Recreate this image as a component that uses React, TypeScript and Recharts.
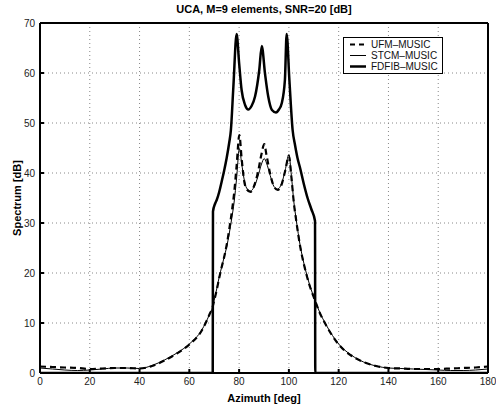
import { CartesianGrid, Label, Line, LineChart, XAxis, YAxis } from "recharts"

// azimuth grid shared by UFM and STCM curves
const azimuth = [
  0, 5, 10, 15, 20, 25, 30, 35, 40, 45, 50, 55, 60, 65, 68, 69.4, 70, 71, 72, 73, 74, 75, 76, 77, 78, 79,
  80.1, 81, 82, 83, 84.6, 86, 87.5, 89, 90.1, 91, 92.5, 94, 95.5, 97, 98.5, 100, 101, 102, 103, 104.5,
  106, 107, 108, 109, 110.5, 112, 115, 120, 125, 130, 135, 140, 145, 150, 155, 160, 165, 170, 175, 180,
]

const ufmMusic = [
  1.3, 1.2, 1.1, 1.0, 0.8, 0.9, 1.0, 1.0, 0.9, 1.4, 2.5, 3.9, 5.7, 8.5, 11.6, 13.3, 14.5, 16.6, 19.0, 21.2,
  23.2, 25.6, 28.6, 32.0, 36.0, 41.5, 47.6, 43.0, 38.5, 36.8, 36.2, 37.4, 40.0, 43.8, 45.8, 43.6, 39.8,
  37.3, 36.6, 37.6, 40.4, 43.4, 39.2, 34.0, 30.3, 25.4, 21.8, 19.8, 18.0, 16.5, 14.5, 12.5, 9.5, 5.7, 3.5,
  2.2, 1.4, 1.0, 0.9, 0.8, 0.8, 0.8, 0.9, 1.0, 1.1, 1.3,
]

const stcmMusic = [
  1.0, 0.8, 0.6, 0.5, 0.6, 0.8, 1.0, 1.0, 0.9, 1.5, 2.6, 4.0, 5.8, 8.6, 11.6, 13.3, 14.6, 16.8, 19.2, 21.2,
  23.2, 25.2, 27.8, 30.8, 34.2, 39.0, 44.9, 42.0, 38.8, 37.0, 36.4, 37.2, 39.2, 41.8, 42.9, 42.0, 39.5,
  37.3, 36.8, 37.8, 40.5, 43.7, 39.5, 34.2, 30.5, 25.6, 22.0, 20.0, 18.2, 16.6, 14.6, 12.6, 9.6, 5.8, 3.6,
  2.2, 1.4, 1.0, 0.9, 0.8, 0.7, 0.6, 0.5, 0.5, 0.6, 0.8,
]

const fdfibAzimuth = [
  0, 69.4, 69.5, 70.3, 71, 72, 73, 74, 75, 76, 76.7, 77.7, 79, 80, 81, 82.4, 83.7, 85, 86.4, 88.1, 89.1,
  90.4, 91.7, 93.2, 94.8, 96, 97.1, 98.4, 99.1, 100.2, 101.5, 102.5, 103.5, 104.5, 106, 107.5, 109, 110.5,
  110.6, 180,
]

const fdfibMusic = [
  0, 0, 32.3, 33.8, 34.6, 36.2, 38.3, 40.5, 43, 46, 48.6, 57.3, 67.8, 62, 56.6, 53.6, 52.7, 53.4, 55.3,
  60.6, 65.4, 59.9, 55.3, 52.6, 52.1, 52.7, 53.9, 58.6, 67.8, 58.6, 48.6, 45.5, 42.9, 41.0, 37.8, 35, 32.8,
  30.4, 0, 0,
]

const xTicks = [0, 20, 40, 60, 80, 100, 120, 140, 160, 180]
const yTicks = [0, 10, 20, 30, 40, 50, 60, 70]

const FONT = '"Liberation Sans", Arial, Helvetica, sans-serif'

const toPoints = (az: number[], db: number[]) => az.map((a, i) => ({ az: a, db: db[i] }))

const tickStyle = { fill: "#222", fontSize: 10, fontFamily: FONT }
const labelStyle = { fill: "#000", fontSize: 11, fontWeight: 700, fontFamily: FONT }

const legendRows = [
  { name: "UFM–MUSIC", width: 2.2, dash: "5 4" },
  { name: "STCM–MUSIC", width: 1, dash: undefined },
  { name: "FDFIB–MUSIC", width: 2.5, dash: undefined },
]

function LegendBox() {
  return (
    <div
      style={{
        position: "absolute",
        left: 343,
        top: 37,
        width: 98,
        height: 34,
        border: "1.5px solid #000",
        background: "#fff",
        fontFamily: FONT,
        fontSize: 10,
        paddingTop: 1,
      }}
    >
      {legendRows.map((row) => (
        <div key={row.name} style={{ display: "flex", alignItems: "center", height: 11 }}>
          <svg width={27} height={11}>
            <line x1={6} x2={22} y1={5.5} y2={5.5} stroke="#000" strokeWidth={row.width} strokeDasharray={row.dash} />
          </svg>
          <span style={{ color: "#111" }}>{row.name}</span>
        </div>
      ))}
    </div>
  )
}

export default function App() {
  return (
    <div style={{ position: "fixed", left: 0, top: 0, width: 496, height: 409, background: "#fff" }}>
      <LineChart width={496} height={409} margin={{ top: 0, right: 0, bottom: 0, left: 0 }}>
        <CartesianGrid stroke="#888" strokeDasharray="1 3" />
        <XAxis
          dataKey="az"
          type="number"
          domain={[0, 180]}
          ticks={xTicks}
          height={36}
          tickSize={-4}
          tickMargin={9}
          stroke="#000"
          strokeWidth={2}
          tick={tickStyle}
        >
          <Label value="Azimuth [deg]" position="insideBottom" offset={7} style={labelStyle} />
        </XAxis>
        <XAxis
          xAxisId="top"
          orientation="top"
          type="number"
          domain={[0, 180]}
          ticks={xTicks}
          height={23}
          tickSize={-4}
          tick={false}
          stroke="#000"
          strokeWidth={2}
        >
          <Label value="UCA, M=9 elements, SNR=20 [dB]" position="insideTop" offset={5} style={labelStyle} />
        </XAxis>
        <YAxis
          type="number"
          domain={[0, 70]}
          ticks={yTicks}
          width={40}
          tickSize={-4}
          tickMargin={9}
          stroke="#000"
          strokeWidth={2}
          tick={tickStyle}
          allowDataOverflow
        >
          <Label
            value="Spectrum [dB]"
            angle={-90}
            position="insideLeft"
            offset={17}
            style={{ ...labelStyle, textAnchor: "middle" }}
          />
        </YAxis>
        <YAxis
          yAxisId="right"
          orientation="right"
          type="number"
          domain={[0, 70]}
          ticks={yTicks}
          width={8}
          tickSize={-4}
          tick={false}
          stroke="#000"
          strokeWidth={2}
        />
        <Line
          data={toPoints(azimuth, ufmMusic)}
          dataKey="db"
          type="monotone"
          stroke="#000"
          strokeWidth={2.2}
          strokeDasharray="6 4"
          dot={false}
          isAnimationActive={false}
        />
        <Line
          data={toPoints(azimuth, stcmMusic)}
          dataKey="db"
          type="monotone"
          stroke="#000"
          strokeWidth={1}
          dot={false}
          isAnimationActive={false}
        />
        <Line
          data={toPoints(fdfibAzimuth, fdfibMusic)}
          dataKey="db"
          type="monotone"
          stroke="#000"
          strokeWidth={2.5}
          dot={false}
          isAnimationActive={false}
        />
      </LineChart>
      <LegendBox />
    </div>
  )
}
